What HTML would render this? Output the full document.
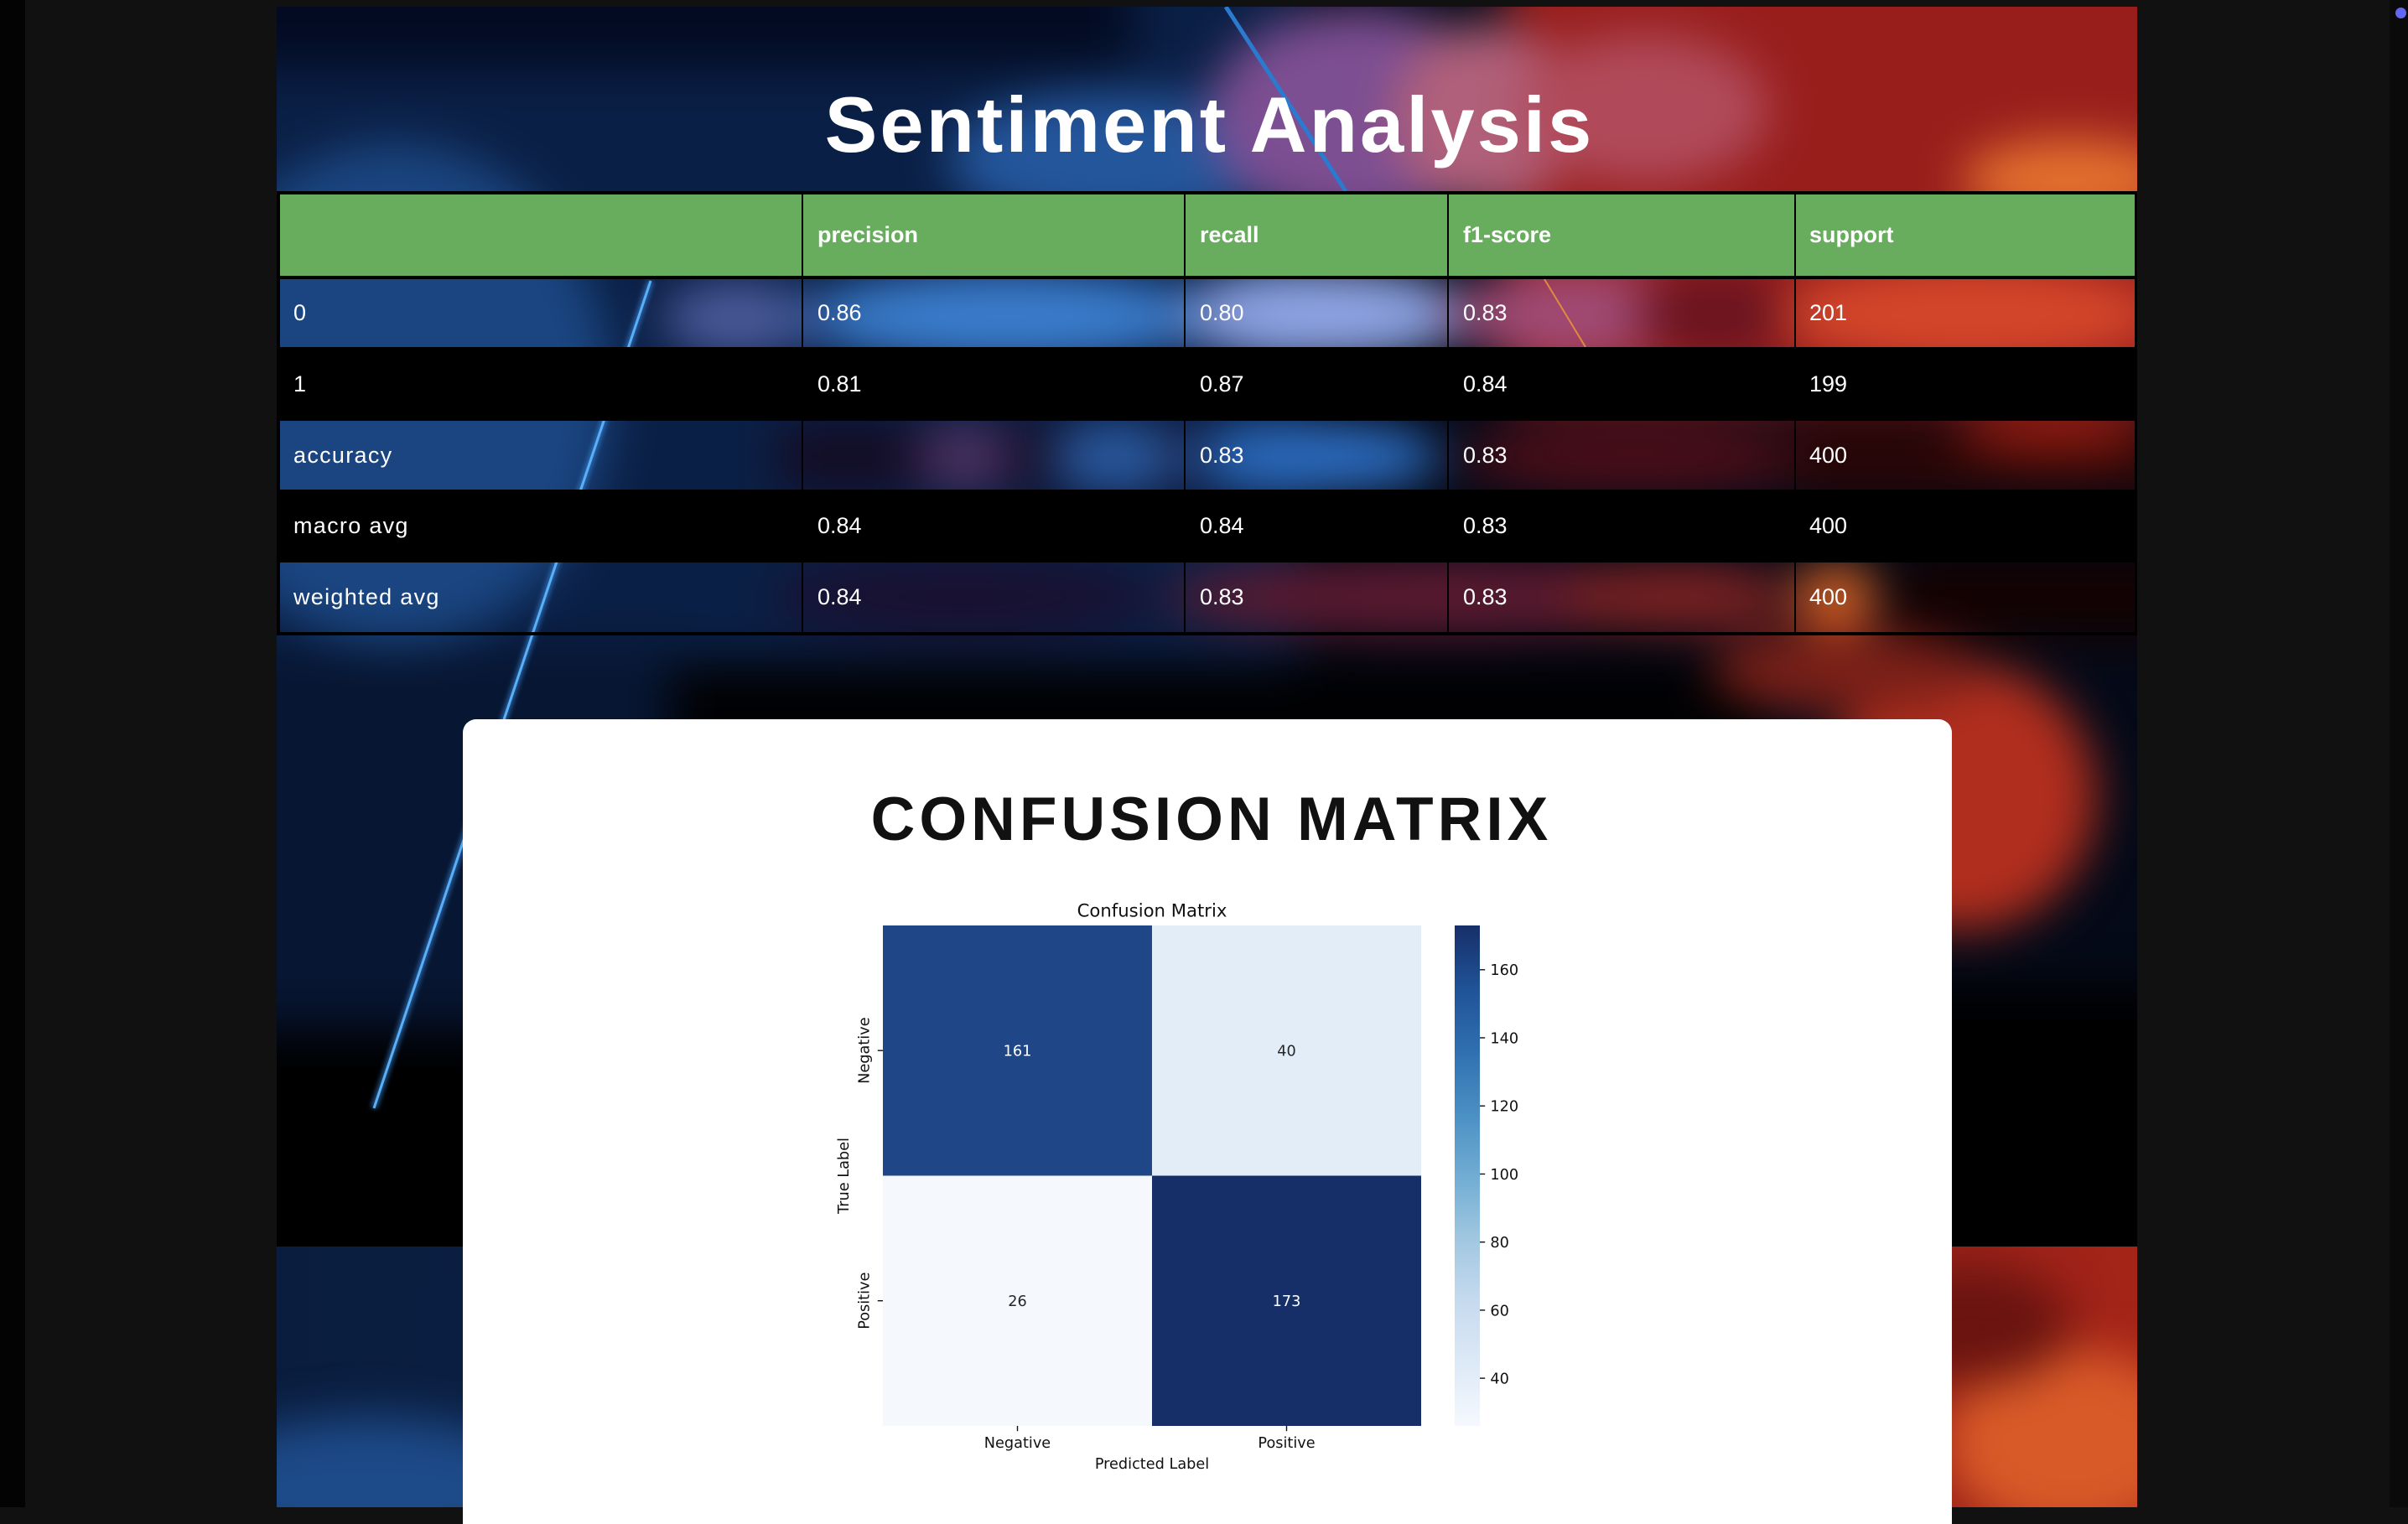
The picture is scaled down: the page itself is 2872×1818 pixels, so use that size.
<!DOCTYPE html>
<html><head><meta charset="utf-8">
<style>
html,body{margin:0;padding:0;width:2872px;height:1798px;overflow:hidden;background:#111;}
.abs{position:absolute;}
.t{position:absolute;color:#fff;font-family:"Liberation Sans",sans-serif;white-space:nowrap;height:40px;line-height:40px;font-size:27px;}
.h{font-weight:bold;}
.lb{letter-spacing:1.3px;}
.tile{position:absolute;overflow:hidden;}
.blur{position:absolute;width:2872px;height:1798px;filter:blur(28px);}
.blur div{position:absolute;}
.e{border-radius:50%;}
</style></head><body>
<div class="abs" style="left:0;top:0;width:30px;height:1798px;background:#030303"></div>
<div class="abs" style="left:2850px;top:0;width:22px;height:1798px;background:#0a0a0a"></div>
<div class="abs" style="left:2857px;top:9px;width:13px;height:13px;border-radius:50%;background:#6366f1"></div>

<!-- background tile 1 -->
<div class="tile" style="left:330px;top:8px;width:2219px;height:1479px;background:#050a18">
 <div class="blur" style="left:-330px;top:-8px">
  <div style="left:250px;top:-80px;width:1300px;height:900px;background:#0a1f45"></div>
  <div style="left:250px;top:-80px;width:1100px;height:160px;background:#030b22"></div>
  <div class="e" style="left:210px;top:170px;width:520px;height:600px;background:#1a4580"></div>
  <div class="e" style="left:1130px;top:110px;width:400px;height:160px;background:#24569c"></div>
  <div class="e" style="left:960px;top:323px;width:480px;height:110px;background:#3a7ccc"></div>
  <div class="e" style="left:790px;top:335px;width:180px;height:90px;background:#4a5a9a"></div>
  <div class="e" style="left:1410px;top:320px;width:340px;height:110px;background:#8ea4e4"></div>
  <div class="e" style="left:1440px;top:10px;width:360px;height:260px;background:#7c4e92"></div>
  <div style="left:1800px;top:-80px;width:850px;height:560px;background:#981e1c"></div>
  <div class="e" style="left:1660px;top:30px;width:220px;height:220px;background:#b0607a"></div>
  <div class="e" style="left:1810px;top:40px;width:300px;height:180px;background:#b04a5a"></div>
  <div class="e" style="left:1730px;top:320px;width:300px;height:110px;background:#a04a74"></div>
  <div class="e" style="left:1950px;top:325px;width:200px;height:100px;background:#6a1420"></div>
  <div class="e" style="left:2120px;top:315px;width:460px;height:120px;background:#d4462a"></div>
  <div class="e" style="left:2340px;top:165px;width:260px;height:100px;background:#e4702e"></div>
  <div style="left:930px;top:505px;width:500px;height:80px;background:#140c24"></div>
  <div class="e" style="left:1090px;top:505px;width:120px;height:80px;background:#4a3060"></div>
  <div class="e" style="left:1250px;top:505px;width:160px;height:80px;background:#2a5aa0"></div>
  <div class="e" style="left:1420px;top:503px;width:300px;height:84px;background:#2c6cc0"></div>
  <div class="e" style="left:1740px;top:503px;width:420px;height:84px;background:#4c0e18"></div>
  <div style="left:2141px;top:500px;width:500px;height:90px;background:#2a0606"></div>
  <div class="e" style="left:2330px;top:485px;width:240px;height:60px;background:#8a1a10"></div>
  <div class="e" style="left:920px;top:667px;width:460px;height:90px;background:#1a1030"></div>
  <div class="e" style="left:1390px;top:667px;width:660px;height:90px;background:#5c1a30"></div>
  <div class="e" style="left:1860px;top:672px;width:280px;height:80px;background:#7c2222"></div>
  <div style="left:2260px;top:665px;width:400px;height:95px;background:#140202"></div>
  <div class="e" style="left:2140px;top:672px;width:100px;height:80px;background:#d06024"></div>
  <div style="left:250px;top:770px;width:560px;height:450px;background:#071632"></div>
  <div style="left:800px;top:790px;width:1300px;height:800px;background:#010103"></div>
  <div class="e" style="left:2180px;top:790px;width:320px;height:320px;background:#b02e1e"></div>
  <div class="e" style="left:2040px;top:750px;width:320px;height:100px;background:#7a2018"></div>
  <div style="left:2100px;top:1180px;width:600px;height:400px;background:#000"></div>
  <div style="left:250px;top:1240px;width:600px;height:350px;background:#000"></div>
 </div>
 <svg class="abs" style="left:-330px;top:-8px" width="2872" height="1798">
  <defs><filter id="bl2" x="-20%" y="-20%" width="140%" height="140%"><feGaussianBlur stdDeviation="3"/></filter></defs>
  <line x1="1462" y1="8" x2="1605" y2="228" stroke="#2a7ad0" stroke-width="5"/>
  <line x1="1842" y1="333" x2="1891" y2="414" stroke="#e08a40" stroke-width="2"/>
  <g filter="url(#bl2)"><line x1="776" y1="335" x2="446" y2="1322" stroke="#3a8ae0" stroke-width="8" opacity="0.6"/></g>
  <line x1="776" y1="335" x2="446" y2="1322" stroke="#5ab0f8" stroke-width="3"/>
 </svg>
</div>

<!-- background tile 2 -->
<div class="tile" style="left:330px;top:1487px;width:2219px;height:311px;background:linear-gradient(90deg,#0a1d3e 0%,#0c2248 30%,#3a2a60 55%,#8a1e1c 70%,#a42418 100%)">
 <div class="blur" style="left:-330px;top:-1487px">
  <div class="e" style="left:220px;top:1690px;width:440px;height:180px;background:#1d4a88"></div>
  <div class="e" style="left:2320px;top:1610px;width:300px;height:220px;background:#d85a28"></div>
  <div class="e" style="left:2230px;top:1510px;width:240px;height:140px;background:#6a1410"></div>
 </div>
</div>

<!-- table structure -->
<svg class="abs" style="left:0;top:0" width="2872" height="800">
<rect x="334" y="232" width="2212" height="97" fill="#68ad5e"/>
<rect x="330" y="414" width="2219" height="88" fill="#000"/>
<rect x="330" y="584" width="2219" height="87" fill="#000"/>
<rect x="330" y="228" width="2219" height="4" fill="#000"/>
<rect x="330" y="329" width="2219" height="4" fill="#000"/>
<rect x="330" y="754" width="2219" height="4" fill="#000"/>
<rect x="330" y="228" width="4" height="530" fill="#000"/>
<rect x="2546" y="228" width="3" height="530" fill="#000"/>
<rect x="956" y="228" width="2" height="530" fill="#000"/>
<rect x="1412" y="228" width="2" height="530" fill="#000"/>
<rect x="1726" y="228" width="2" height="530" fill="#000"/>
<rect x="2140" y="228" width="2" height="530" fill="#000"/>
</svg>

<div class="abs" style="left:333px;width:2219px;top:102px;text-align:center;font:bold 94px/94px 'Liberation Sans',sans-serif;color:#fff;letter-spacing:3px;white-space:nowrap;">Sentiment Analysis</div>

<div class="t h" style="left:975px;top:260px">precision</div>
<div class="t h" style="left:1431px;top:260px">recall</div>
<div class="t h" style="left:1745px;top:260px">f1-score</div>
<div class="t h" style="left:2158px;top:260px">support</div>

<div class="t lb" style="left:350px;top:353px">0</div>
<div class="t" style="left:975px;top:353px">0.86</div>
<div class="t" style="left:1431px;top:353px">0.80</div>
<div class="t" style="left:1745px;top:353px">0.83</div>
<div class="t" style="left:2158px;top:353px">201</div>

<div class="t lb" style="left:350px;top:438px">1</div>
<div class="t" style="left:975px;top:438px">0.81</div>
<div class="t" style="left:1431px;top:438px">0.87</div>
<div class="t" style="left:1745px;top:438px">0.84</div>
<div class="t" style="left:2158px;top:438px">199</div>

<div class="t lb" style="left:350px;top:523px">accuracy</div>
<div class="t" style="left:1431px;top:523px">0.83</div>
<div class="t" style="left:1745px;top:523px">0.83</div>
<div class="t" style="left:2158px;top:523px">400</div>

<div class="t lb" style="left:350px;top:607px">macro avg</div>
<div class="t" style="left:975px;top:607px">0.84</div>
<div class="t" style="left:1431px;top:607px">0.84</div>
<div class="t" style="left:1745px;top:607px">0.83</div>
<div class="t" style="left:2158px;top:607px">400</div>

<div class="t lb" style="left:350px;top:692px">weighted avg</div>
<div class="t" style="left:975px;top:692px">0.84</div>
<div class="t" style="left:1431px;top:692px">0.83</div>
<div class="t" style="left:1745px;top:692px">0.83</div>
<div class="t" style="left:2158px;top:692px">400</div>

<div class="abs" style="left:552px;top:858px;width:1776px;height:960px;background:#fff;border-radius:16px 16px 0 0;"></div>
<div class="abs" style="left:557px;width:1776px;top:941px;text-align:center;font:bold 73px/73px 'Liberation Sans',sans-serif;color:#111;letter-spacing:5px;white-space:nowrap;">CONFUSION MATRIX</div>

<svg class="abs" style="left:0;top:0" width="2872" height="1798" font-family="'DejaVu Sans', sans-serif">
<defs>
<linearGradient id="cb" x1="0" y1="1" x2="0" y2="0">
<stop offset="0" stop-color="#f5f9fe"/>
<stop offset="0.125" stop-color="#dde9f6"/>
<stop offset="0.25" stop-color="#c6daee"/>
<stop offset="0.375" stop-color="#a0c7e0"/>
<stop offset="0.5" stop-color="#70acd3"/>
<stop offset="0.625" stop-color="#4a8fc3"/>
<stop offset="0.75" stop-color="#2f6fb0"/>
<stop offset="0.875" stop-color="#1f5296"/>
<stop offset="1" stop-color="#172f69"/>
</linearGradient>
</defs>
<text x="1374" y="1093.4" font-size="21.2" text-anchor="middle" fill="#111">Confusion Matrix</text>
<rect x="1053" y="1104" width="321" height="298.5" fill="#1f4686"/>
<rect x="1374" y="1104" width="321" height="298.5" fill="#e3edf7"/>
<rect x="1053" y="1402.5" width="321" height="298.5" fill="#f5f9fe"/>
<rect x="1374" y="1402.5" width="321" height="298.5" fill="#172f69"/>
<g font-size="17.7" text-anchor="middle">
<text x="1213.5" y="1259.7" fill="#fff">161</text>
<text x="1534.5" y="1259.7" fill="#262626">40</text>
<text x="1213.5" y="1558.2" fill="#262626">26</text>
<text x="1534.5" y="1558.2" fill="#fff">173</text>
</g>
<g stroke="#111" stroke-width="1.4">
<line x1="1213.5" y1="1701" x2="1213.5" y2="1707.2"/>
<line x1="1534.5" y1="1701" x2="1534.5" y2="1707.2"/>
<line x1="1046.8" y1="1253.2" x2="1053" y2="1253.2"/>
<line x1="1046.8" y1="1551.7" x2="1053" y2="1551.7"/>
</g>
<g font-size="17.7" fill="#111">
<text x="1213.5" y="1727" text-anchor="middle">Negative</text>
<text x="1534.5" y="1727" text-anchor="middle">Positive</text>
<text x="1374" y="1752" text-anchor="middle">Predicted Label</text>
<text x="1036.4" y="1253.2" text-anchor="middle" transform="rotate(-90 1036.4 1253.2)">Negative</text>
<text x="1036.4" y="1551.7" text-anchor="middle" transform="rotate(-90 1036.4 1551.7)">Positive</text>
<text x="1012.2" y="1402.5" text-anchor="middle" transform="rotate(-90 1012.2 1402.5)">True Label</text>
</g>
<rect x="1735" y="1104" width="30" height="597" fill="url(#cb)"/>
<g stroke="#111" stroke-width="1.4">
<line x1="1765" y1="1644.1" x2="1771.2" y2="1644.1"/>
<line x1="1765" y1="1562.9" x2="1771.2" y2="1562.9"/>
<line x1="1765" y1="1481.7" x2="1771.2" y2="1481.7"/>
<line x1="1765" y1="1400.5" x2="1771.2" y2="1400.5"/>
<line x1="1765" y1="1319.3" x2="1771.2" y2="1319.3"/>
<line x1="1765" y1="1238.0" x2="1771.2" y2="1238.0"/>
<line x1="1765" y1="1156.8" x2="1771.2" y2="1156.8"/>
</g>
<g font-size="17.7" fill="#111">
<text x="1777.4" y="1650.5">40</text>
<text x="1777.4" y="1569.3">60</text>
<text x="1777.4" y="1488.1">80</text>
<text x="1777.4" y="1406.9">100</text>
<text x="1777.4" y="1325.7">120</text>
<text x="1777.4" y="1244.4">140</text>
<text x="1777.4" y="1163.2">160</text>
</g>
</svg>
</body></html>
